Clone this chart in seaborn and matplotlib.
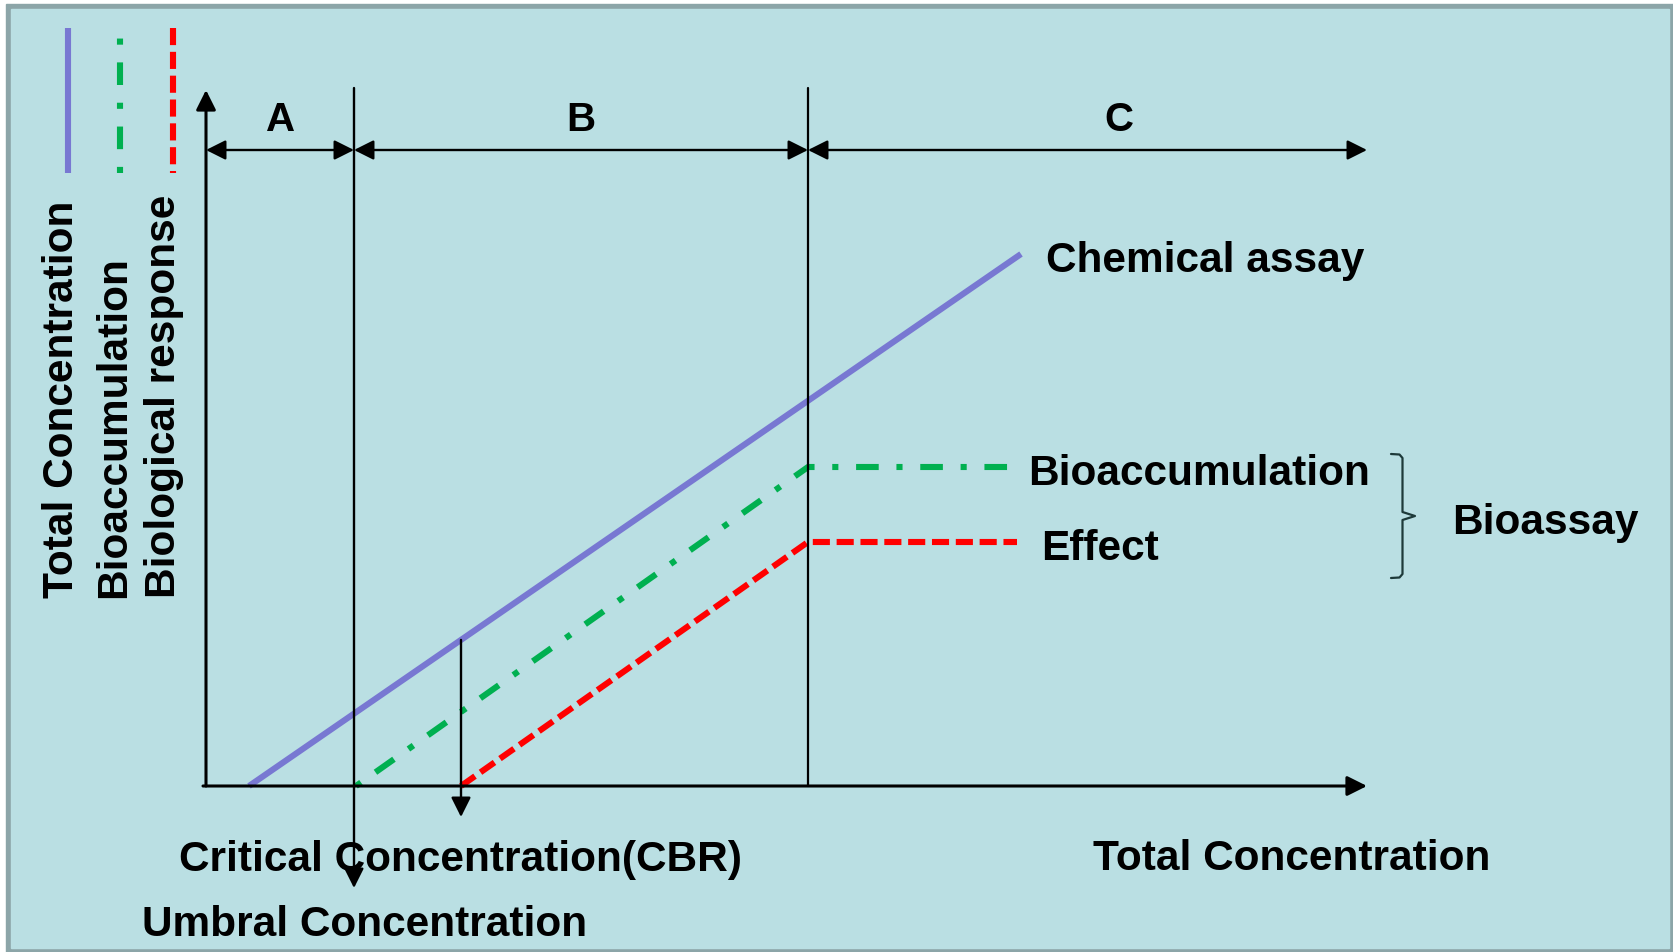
import numpy as np
import pandas as pd
import matplotlib.pyplot as plt
import seaborn as sns
from matplotlib.patches import Rectangle

# ---- data (schematic concentration units) ----
chem_x = [0.43, 8.15]
chem_y = [0.0, 5.32]
bioacc_x = [1.50, 6.02, 8.05]
bioacc_y = [0.0, 3.19, 3.19]
effect_x = [2.55, 6.02, 8.11]
effect_y = [0.0, 2.44, 2.44]

zone_labels = ['A', 'B', 'C']
zone_edges = [0.0, 1.48, 6.02, 11.61]
zone_label_x = [0.75, 3.75, 9.13]
y_axis_top = 6.96
umbral_x = zone_edges[1]
cbr_x = effect_x[0]

legend_labels = ['Total Concentration', 'Bioaccumulation', 'Biological response']

BLUE = '#7878D2'
GREEN = '#00B050'
RED = '#FF0000'
BG = '#BADFE3'
FRAME = '#8CA5A8'

styles = {
    'chem': dict(color=BLUE, linestyle='-'),
    'bioacc': dict(color=GREEN, linestyle=(0, (1.0, 2.9, 3.7, 2.9))),
    'effect': dict(color=RED, linestyle=(0, (2.8, 1.1))),
}

sns.set_theme(style='white')
plt.rcParams['font.family'] = ['Liberation Sans', 'DejaVu Sans']

fig = plt.figure(figsize=(16.74, 9.52), dpi=100, facecolor='white')
fig.add_artist(Rectangle((6 / 1674, 0), 1668 / 1674, 948 / 952,
                         transform=fig.transFigure, color=FRAME, zorder=-2))
fig.add_artist(Rectangle((11 / 1674, 4 / 952), 1658 / 1674, 939 / 952,
                         transform=fig.transFigure, color=BG, zorder=-1))

ax = fig.add_axes([0, 0, 1, 1])
ax.set_facecolor('none')

# main series
for key, xs, ys in [('chem', chem_x, chem_y),
                    ('bioacc', bioacc_x, bioacc_y),
                    ('effect', effect_x, effect_y)]:
    df = pd.DataFrame({'x': xs, 'y': ys})
    sns.lineplot(data=df, x='x', y='y', ax=ax, estimator=None, sort=False,
                 lw=4.4, solid_capstyle='butt', dash_capstyle='butt', **styles[key])

# legend samples (vertical) with rotated labels
leg_x = [-1.38, -0.86, -0.33]
leg_text_x = [-1.33, -0.81, -0.31]
for key, lx, tx, lab in zip(['chem', 'bioacc', 'effect'], leg_x, leg_text_x, legend_labels):
    ys = [6.13, 7.58] if key == 'bioacc' else [7.58, 6.13]
    df = pd.DataFrame({'x': [lx, lx], 'y': ys})
    sns.lineplot(data=df, x='x', y='y', ax=ax, estimator=None, sort=False,
                 lw=4.4, solid_capstyle='butt', dash_capstyle='butt', **styles[key])
    ax.text(tx, 1.88, lab, rotation=90, rotation_mode='anchor', ha='left',
            va='baseline', fontsize=30.5, fontweight='bold', color='black')

arrow = dict(arrowstyle='-|>,head_length=0.6,head_width=0.3', mutation_scale=20,
             lw=1.7, color='black', shrinkA=0, shrinkB=0)
darrow = dict(arrow, arrowstyle='<|-|>,head_length=0.6,head_width=0.3')

# axes
ax.annotate('', xy=(0, y_axis_top), xytext=(0, 0), arrowprops=dict(arrow, lw=2.2))
ax.annotate('', xy=(zone_edges[-1], 0), xytext=(-0.03, 0), arrowprops=dict(arrow, lw=2.2))

# zone boundaries
ax.plot([zone_edges[2], zone_edges[2]], [0, 6.98], color='black', lw=1.6)
ax.annotate('', xy=(umbral_x, -1.02), xytext=(umbral_x, 6.98), arrowprops=arrow)

# critical concentration marker
cbr_top = np.interp(cbr_x, chem_x, chem_y)
ax.annotate('', xy=(cbr_x, -0.31), xytext=(cbr_x, cbr_top), arrowprops=arrow)

# zone dimension arrows and labels
dim_y = 6.36
for i, lab in enumerate(zone_labels):
    ax.annotate('', xy=(zone_edges[i + 1], dim_y), xytext=(zone_edges[i], dim_y),
                arrowprops=darrow)
    ax.text(zone_label_x[i], 6.55, lab, ha='center', va='baseline',
            fontsize=29, fontweight='bold', color='black')

# curve labels
txt = dict(fontsize=30.5, fontweight='bold', color='black', va='baseline', ha='left')
ax.text(8.40, 5.14, 'Chemical assay', **txt)
ax.text(8.22, 3.01, 'Bioaccumulation', **txt)
ax.text(8.35, 2.255, 'Effect', **txt)
ax.text(12.46, 2.52, 'Bioassay', **txt)
ax.text(-0.27, -0.85, 'Critical Concentration(CBR)', **txt)
ax.text(-0.64, -1.50, 'Umbral Concentration', **txt)
ax.text(8.87, -0.84, 'Total Concentration', **txt)

# brace grouping the bioassay curves
b_left, b_stem, b_tip = 11.85, 11.965, 12.09
b_top, b_bot = 3.32, 2.08
b_mid = (b_top + b_bot) / 2
brace_x = [b_left, b_stem - 0.03, b_stem, b_stem, b_tip, b_stem, b_stem, b_stem - 0.03, b_left]
brace_y = [b_top, b_top - 0.005, b_top - 0.04, b_mid + 0.04, b_mid, b_mid - 0.04,
           b_bot + 0.04, b_bot + 0.005, b_bot]
ax.plot(brace_x, brace_y, color='#1E3A3A', lw=1.6)

ax.set_xlim(-2.06, 14.68)
ax.set_ylim(-1.66, 7.86)
ax.set_axis_off()

fig.savefig('out.png', dpi=100)
plt.close(fig)
